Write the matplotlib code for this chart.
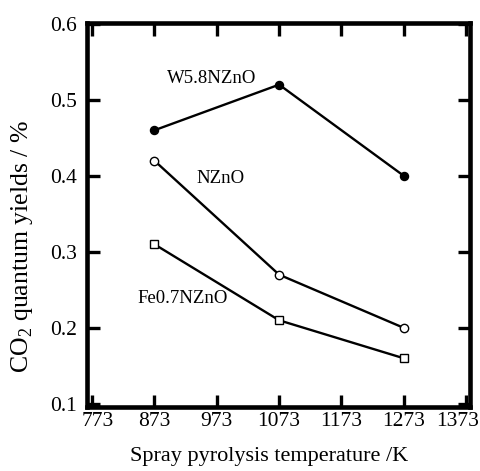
import matplotlib
matplotlib.use("Agg")
import matplotlib.pyplot as plt
import matplotlib.transforms as mtransforms

plt.rcParams["font.family"] = ["Liberation Serif", "DejaVu Serif"]
plt.rcParams["mathtext.fontset"] = "custom"
plt.rcParams["mathtext.rm"] = "Liberation Serif"

# spray pyrolysis temperatures (K)
temps = [873, 1073, 1273]
w58_nzno = [0.46, 0.52, 0.40]
nzno = [0.42, 0.27, 0.20]
fe07_nzno = [0.31, 0.21, 0.16]

x_ticks = [773, 873, 973, 1073, 1173, 1273, 1373]
y_ticks = [0.1, 0.2, 0.3, 0.4, 0.5, 0.6]

fig = plt.figure(figsize=(4.81, 4.71), dpi=100)
ax = fig.add_axes([0.181, 0.136, 0.796, 0.815])

ax.plot(temps, w58_nzno, "-o", color="black", lw=1.7, ms=5.8,
        mfc="black", mec="black")
ax.plot(temps, nzno, "-o", color="black", lw=1.7, ms=6,
        mfc="white", mec="black", mew=1.0)
ax.plot(temps, fe07_nzno, "-s", color="black", lw=1.7, ms=6,
        mfc="white", mec="black", mew=1.0)

ax.text(965, 0.528, "W5.8NZnO", fontsize=13.5, ha="center", va="center")
ax.text(979, 0.397, "NZnO", fontsize=13.5, ha="center", va="center")
ax.text(918, 0.239, "Fe0.7NZnO", fontsize=13.5, ha="center", va="center")

ax.set_xlim(765, 1379)
ax.set_ylim(0.096, 0.601)
ax.set_xticks(x_ticks)
ax.set_yticks(y_ticks)
ax.set_yticklabels([f"{v:.1f}" for v in y_ticks])

for s in ax.spines.values():
    s.set_linewidth(3.3)
ax.tick_params(direction="in", top=True, right=True, length=9, width=2.4,
               labelsize=15.5)
ax.tick_params(axis="x", pad=4)
ax.tick_params(axis="y", pad=7)

# nudge the end labels the way the original sits
xlabels = ax.get_xticklabels()
xlabels[0].set_transform(xlabels[0].get_transform()
                         + mtransforms.ScaledTranslation(0.06, 0, fig.dpi_scale_trans))
xlabels[-1].set_transform(xlabels[-1].get_transform()
                          + mtransforms.ScaledTranslation(-0.09, 0, fig.dpi_scale_trans))

ax.set_xlabel("Spray pyrolysis temperature /K", fontsize=16, labelpad=6)
ax.xaxis.set_label_coords(0.476, -0.105)
ax.set_ylabel(r"CO$_\mathregular{2}$ quantum yields / %", fontsize=18.5)
ax.yaxis.set_label_coords(-0.135, 0.417)

fig.savefig("out.png", dpi=100)
